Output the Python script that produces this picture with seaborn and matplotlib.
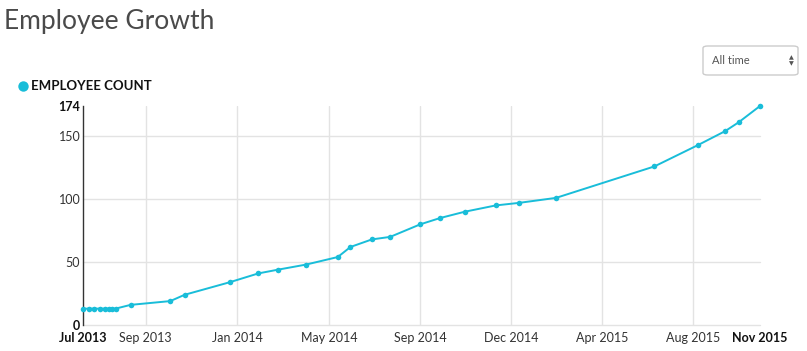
import matplotlib
matplotlib.use("Agg")
import matplotlib.pyplot as plt
from matplotlib.patches import FancyBboxPatch
from matplotlib.lines import Line2D
import seaborn as sns
import pandas as pd

dates = ["2013-07-01", "2013-07-08", "2013-07-15", "2013-07-22", "2013-07-29",
         "2013-08-03", "2013-08-07", "2013-08-11", "2013-08-30", "2013-10-19",
         "2013-11-06", "2014-01-02", "2014-02-07", "2014-03-04", "2014-04-08",
         "2014-05-18", "2014-06-03", "2014-06-30", "2014-07-23", "2014-08-30",
         "2014-09-24", "2014-10-25", "2014-12-03", "2015-01-01", "2015-02-17",
         "2015-06-21", "2015-08-15", "2015-09-18", "2015-10-05", "2015-11-01"]
employees = [13, 13, 13, 13, 13, 13, 13, 13, 16, 19,
             24, 34, 41, 44, 48, 54, 62, 68, 70, 80,
             85, 90, 95, 97, 101, 126, 143, 154, 161, 174]

tick_dates = ["2013-07-01", "2013-09-18", "2014-01-11", "2014-05-07", "2014-08-30",
              "2014-12-22", "2015-04-16", "2015-08-09", "2015-11-01"]
tick_labels = ["Jul 2013", "Sep 2013", "Jan 2014", "May 2014", "Sep 2014",
               "Dec 2014", "Apr 2015", "Aug 2015", "Nov 2015"]
y_ticks = [0, 50, 100, 150, 174]

df = pd.DataFrame({"date": pd.to_datetime(dates), "count": employees})

sns.set_theme(style="white")
plt.rcParams["font.family"] = ["Lato", "DejaVu Sans"]

LINE = "#19BDD9"
fig = plt.figure(figsize=(8.07, 3.51), dpi=100)
ax = fig.add_axes([83 / 807, 26 / 351, 677 / 807, 219 / 351])

tdates = pd.to_datetime(tick_dates)
for d in tdates[1:-1]:
    ax.axvline(d, color="#e3e3e3", lw=1, zorder=0)
for v in y_ticks[:-1]:
    ax.axhline(v, color="#e3e3e3", lw=1, zorder=0, clip_on=False)

sns.lineplot(data=df, x="date", y="count", ax=ax, color=LINE, lw=1.4,
             marker="o", markersize=4, markeredgewidth=0, clip_on=False, zorder=3)

ax.set_xlim(tdates[0], tdates[-1])
ax.set_ylim(0, 174)
ax.set_xlabel("")
ax.set_ylabel("")
for s in ["top", "right", "bottom"]:
    ax.spines[s].set_visible(False)
ax.spines["left"].set_color("#333333")
ax.spines["left"].set_linewidth(1)

ax.set_xticks(tdates)
ax.set_xticklabels(tick_labels)
ax.set_yticks(y_ticks)
ax.set_yticklabels([str(v) for v in y_ticks])
ax.tick_params(axis="both", length=0, labelsize=9, colors="#333333")
ax.tick_params(axis="y", pad=2)
ax.tick_params(axis="x", pad=5)
for lab in (ax.get_xticklabels()[0], ax.get_xticklabels()[-1],
            ax.get_yticklabels()[0], ax.get_yticklabels()[-1]):
    lab.set_fontweight("bold")
    lab.set_color("#111111")

# Title
fig.text(4 / 807, 1 - 21 / 351, "Employee Growth", fontsize=19, color="#4a4a4a",
         fontweight="normal", va="center", ha="left")

# Legend
fig.add_artist(Line2D([23 / 807], [1 - 86 / 351], transform=fig.transFigure,
                      marker="o", markersize=7.5, color=LINE, markeredgewidth=0,
                      linestyle="none"))
fig.text(31 / 807, 1 - 86 / 351, "EMPLOYEE COUNT", fontsize=9.5, fontweight="bold",
         color="#111111", va="center", ha="left")

# Dropdown box
box = FancyBboxPatch((703 / 807, 1 - 75 / 351), 95 / 807, 29 / 351,
                     boxstyle="round,pad=0,rounding_size=0.006",
                     transform=fig.transFigure, facecolor="white",
                     edgecolor="#cccccc", lw=1, figure=fig)
fig.patches.append(box)
fig.text(712 / 807, 1 - 61 / 351, "All time", fontsize=8, color="#555555",
         va="center", ha="left")
fig.text(791 / 807, 1 - 58 / 351, "▲", fontsize=4.5, color="#555555",
         va="center", ha="center", family="DejaVu Sans")
fig.text(791 / 807, 1 - 64 / 351, "▼", fontsize=4.5, color="#555555",
         va="center", ha="center", family="DejaVu Sans")

fig.savefig("out.png", dpi=100)
